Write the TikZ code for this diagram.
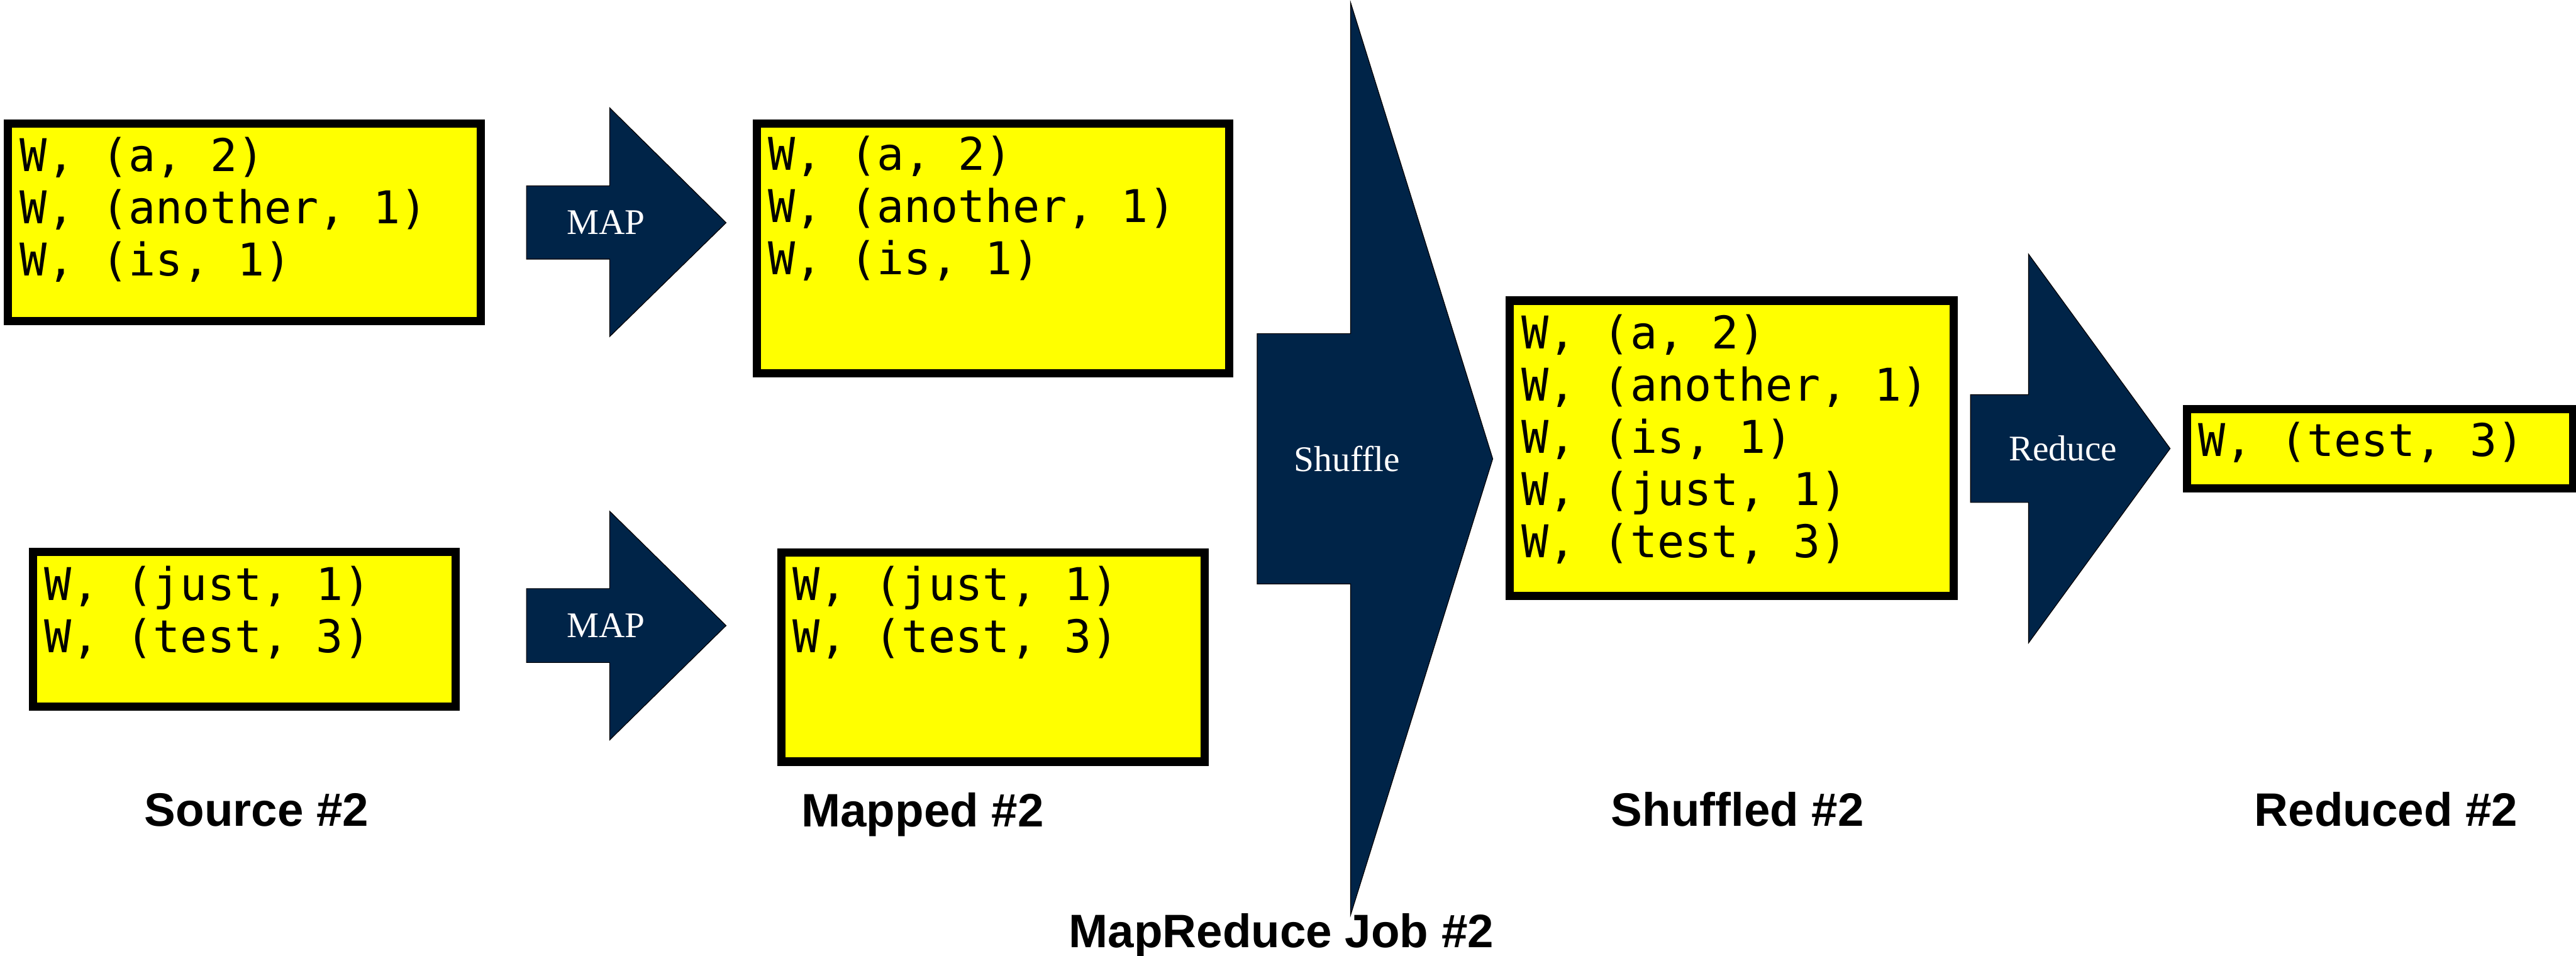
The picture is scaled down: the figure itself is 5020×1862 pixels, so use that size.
\documentclass[tikz,border=0pt]{standalone}
\usepackage{fontspec}
\newfontfamily\recfont{DejaVu Sans Mono}
\newfontfamily\captionfont{Liberation Sans}
\newfontfamily\stepfont{Liberation Serif}
\definecolor{navyfill}{RGB}{0,36,72}
\definecolor{recyellow}{RGB}{255,255,0}

\begin{document}
\begin{tikzpicture}[x=0.01cm,y=-0.01cm,
  databox/.style={draw=black, fill=recyellow, line width=0.16cm, inner sep=0pt, outer sep=0pt},
  records/.style={anchor=base west, inner sep=0pt, outer sep=0pt,
    font=\recfont\fontsize{25pt}{28.9pt}\selectfont},
  blockarrow/.style={fill=navyfill, draw=black, line width=0.4pt, line join=miter},
  steplabel/.style={anchor=base, inner sep=0pt, text=white,
    font=\stepfont\fontsize{20pt}{24pt}\selectfont},
  caption/.style={anchor=base, inner sep=0pt,
    font=\captionfont\bfseries\fontsize{26pt}{31pt}\selectfont}]

\useasboundingbox (0,0) rectangle (5020,1862);

% ---------- data boxes ----------
\node[databox, minimum width=9.21cm, minimum height=3.84cm] (srcA) at (476.5,433) {};
\node[databox, minimum width=8.23cm, minimum height=3.01cm] (srcB) at (476.5,1226.5) {};
\node[databox, minimum width=9.20cm, minimum height=4.86cm] (mapA) at (1935,484) {};
\node[databox, minimum width=8.24cm, minimum height=4.07cm] (mapB) at (1935,1280.5) {};
\node[databox, minimum width=8.65cm, minimum height=5.75cm] (shuf) at (3374.5,873.5) {};
\node[databox, minimum width=7.52cm, minimum height=1.55cm] (red) at (4638,874.5) {};

% ---------- records ----------
\node[records] (srcAtext) at (39,334) {\begin{tabular}[t]{@{}l@{}}W, (a, 2)\\W, (another, 1)\\W, (is, 1)\end{tabular}};
\node[records] (srcBtext) at (87,1170) {\begin{tabular}[t]{@{}l@{}}W, (just, 1)\\W, (test, 3)\end{tabular}};
\node[records] (mapAtext) at (1497,332) {\begin{tabular}[t]{@{}l@{}}W, (a, 2)\\W, (another, 1)\\W, (is, 1)\end{tabular}};
\node[records] (mapBtext) at (1545,1170) {\begin{tabular}[t]{@{}l@{}}W, (just, 1)\\W, (test, 3)\end{tabular}};
\node[records] (shuftext) at (2965,680) {\begin{tabular}[t]{@{}l@{}}W, (a, 2)\\W, (another, 1)\\W, (is, 1)\\W, (just, 1)\\W, (test, 3)\end{tabular}};
\node[records] (redtext) at (4284,889) {W, (test, 3)};

% ---------- block arrows ----------
\path[blockarrow] (1026,362) -- (1188,362) -- (1188,210) -- (1415,434)
  -- (1188,656) -- (1188,505) -- (1026,505) -- cycle;
\node[steplabel] (mapAlabel) at (1181,456) {MAP};

\path[blockarrow] (1026,1147) -- (1188,1147) -- (1188,996) -- (1415,1219)
  -- (1188,1442) -- (1188,1291) -- (1026,1291) -- cycle;
\node[steplabel] (mapBlabel) at (1181,1242) {MAP};

\path[blockarrow] (2450,650) -- (2632,650) -- (2632,5) -- (2909,894)
  -- (2632,1783) -- (2632,1138) -- (2450,1138) -- cycle;
\node[steplabel] (shuflabel) at (2625,918) {Shuffle};

\path[blockarrow] (3840,769) -- (3953,769) -- (3953,495) -- (4229,874)
  -- (3953,1253) -- (3953,979) -- (3840,979) -- cycle;
\node[steplabel] (redlabel) at (4020,898) {Reduce};

% ---------- captions ----------
\node[caption] (srccap) at (500,1610) {Source \#2};
\node[caption] (mapcap) at (1798,1611) {Mapped \#2};
\node[caption] (shufcap) at (3386,1610) {Shuffled \#2};
\node[caption] (redcap) at (4650,1610) {Reduced \#2};
\node[caption] (jobcap) at (2497,1846) {MapReduce Job \#2};
\end{tikzpicture}
\end{document}
